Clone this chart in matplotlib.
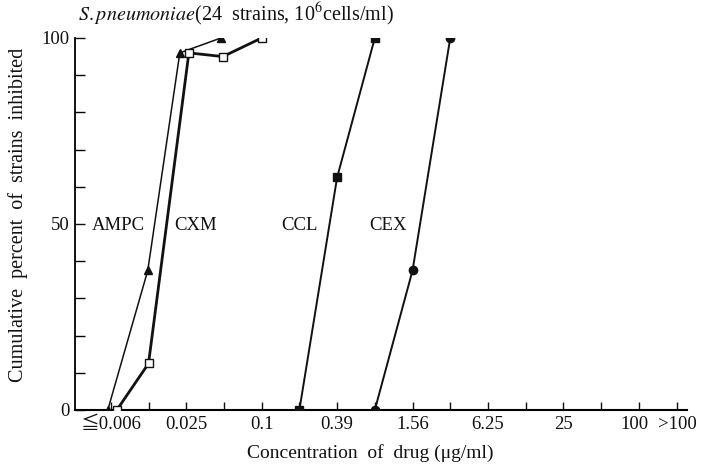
import matplotlib
matplotlib.use("Agg")
import matplotlib.pyplot as plt
from matplotlib.ticker import MultipleLocator, FixedLocator

plt.rcParams['font.family'] = ['Liberation Serif', 'Noto Sans CJK JP', 'DejaVu Serif']
plt.rcParams['mathtext.fontset'] = 'stix'

# dilution steps (index positions on the x axis)
conc_labels = ["≦0.006", "0.025", "0.1", "0.39", "1.56", "6.25", "25"]
conc_label_pos = [0, 2, 4, 6, 8, 10, 12]
end_labels = ["100", ">100"]
end_label_pos = [13.88, 15.02]
n_steps = 16

# series (x = dilution-step index, y = cumulative %)
ampc_x = [-0.08, 0.98, 1.83, 2.92]
ampc_y = [0, 37.5, 96, 100]
cxm_x = [0.16, 1.0, 2.07, 2.97, 4.0]
cxm_y = [0, 12.5, 96, 95, 100]
ccl_x = [5.0, 6.0, 7.0]
ccl_y = [0, 62.5, 100]
cex_x = [7.0, 8.0, 9.0]
cex_y = [0, 37.5, 100]

fig = plt.figure(figsize=(7.04, 4.69), dpi=100)
ax = fig.add_axes([0.1065, 0.1258, 0.8695, 0.7932])

k = '#111111'
ax.plot(ampc_x, ampc_y, color=k, lw=1.1, marker='^', ms=6, mfc=k, mec=k, zorder=3)
ax.plot(cxm_x, cxm_y, color=k, lw=2.0, marker='s', ms=6, mfc='white', mec=k, mew=1.0, zorder=4)
ax.plot(ccl_x, ccl_y, color=k, lw=1.4, marker='s', ms=6, mfc=k, mec=k, zorder=3)
ax.plot(cex_x, cex_y, color=k, lw=1.4, marker='o', ms=6, mfc=k, mec=k, zorder=3)

ax.set_xlim(-0.95, 15.28)
ax.set_ylim(0, 100)
for s in ['top', 'right']:
    ax.spines[s].set_visible(False)
ax.spines['left'].set_linewidth(1.3)
ax.spines['bottom'].set_linewidth(1.5)

ax.set_xticks(range(n_steps))
ax.set_xticklabels([conc_labels[conc_label_pos.index(i)] if i in conc_label_pos else "" for i in range(n_steps)])
ax.xaxis.set_minor_locator(FixedLocator(end_label_pos))
ax.set_xticklabels(end_labels, minor=True)
ax.yaxis.set_major_locator(MultipleLocator(50))
ax.yaxis.set_minor_locator(MultipleLocator(10))
ax.tick_params(axis='x', which='major', direction='in', length=6, width=1, labelsize=13.5, pad=4, colors=k)
ax.tick_params(axis='x', which='minor', length=0, labelsize=13.5, pad=4, colors=k)
ax.tick_params(axis='y', which='major', direction='in', length=7, width=1, labelsize=13.5, pad=4, colors=k)
ax.tick_params(axis='y', which='minor', direction='in', length=7, width=1)

fig.text(0.0256, 0.5416, "Cumulative  percent  of  strains  inhibited", rotation=90,
         ha='center', va='center', fontsize=14.5, color=k)
fig.text(0.5256, 0.034, "Concentration  of  drug (μg/ml)", ha='center', va='center', fontsize=14, color=k)
fig.text(0.335, 0.970, r"$\it{S.pneumoniae}$(24  strains, 10$^{6}$cells/ml)", ha='center', va='center', fontsize=14.5, color=k)

for txt, xp in [("AMPC", 0.19), ("CXM", 2.25), ("CCL", 5.0), ("CEX", 7.35)]:
    ax.text(xp, 49.5, txt, ha='center', va='center', fontsize=13.5, color=k)

fig.savefig("out.png", dpi=100)
